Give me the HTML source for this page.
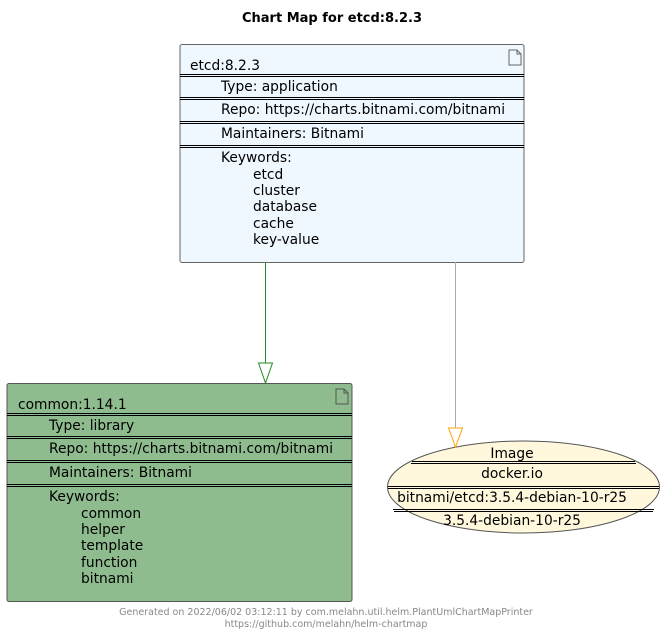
<!DOCTYPE html>
<html><head><meta charset="utf-8"><style>body{margin:0;background:#fff}svg{display:block}text{font-family:"DejaVu Sans","Liberation Sans",sans-serif;font-size:13.8px;fill:#000}</style></head><body>
<svg width="664" height="636" viewBox="0 0 664 636" xmlns="http://www.w3.org/2000/svg">
<text x="332" y="22" text-anchor="middle" style="font-weight:bold;font-size:13px">Chart Map for etcd:8.2.3</text>
<!-- node1 -->
<rect x="180" y="44.5" width="344" height="218" rx="2" fill="#F0F8FF" stroke="#666"/>
<path d="M509 50h8l4 4v11h-12z M517 50v4h4" fill="none" stroke="#666"/>
<g stroke="#000" stroke-width="1">
<line x1="180" y1="74.5" x2="524" y2="74.5"/><line x1="180" y1="76.5" x2="524" y2="76.5"/>
<line x1="180" y1="97.5" x2="524" y2="97.5"/><line x1="180" y1="99.5" x2="524" y2="99.5"/>
<line x1="180" y1="121.5" x2="524" y2="121.5"/><line x1="180" y1="123.5" x2="524" y2="123.5"/>
<line x1="180" y1="145.5" x2="524" y2="145.5"/><line x1="180" y1="147.5" x2="524" y2="147.5"/>
</g>
<text x="190" y="70">etcd:8.2.3</text>
<text x="221" y="91">Type: application</text>
<text x="221" y="114">Repo: https://charts.bitnami.com/bitnami</text>
<text x="221" y="138">Maintainers: Bitnami</text>
<text x="221" y="162">Keywords:</text>
<text x="253" y="179">etcd</text><text x="253" y="195">cluster</text><text x="253" y="211">database</text><text x="253" y="228">cache</text><text x="253" y="244">key-value</text>
<!-- node2 -->
<rect x="7" y="383.5" width="345" height="218" rx="2" fill="#8FBC8F" stroke="#555"/>
<path d="M336 389h8l4 4v11h-12z M344 389v4h4" fill="none" stroke="#555"/>
<g stroke="#000" stroke-width="1">
<line x1="7" y1="413.5" x2="352" y2="413.5"/><line x1="7" y1="415.5" x2="352" y2="415.5"/>
<line x1="7" y1="436.5" x2="352" y2="436.5"/><line x1="7" y1="438.5" x2="352" y2="438.5"/>
<line x1="7" y1="460.5" x2="352" y2="460.5"/><line x1="7" y1="462.5" x2="352" y2="462.5"/>
<line x1="7" y1="484.5" x2="352" y2="484.5"/><line x1="7" y1="486.5" x2="352" y2="486.5"/>
</g>
<text x="18" y="409">common:1.14.1</text>
<text x="49" y="430">Type: library</text>
<text x="49" y="453">Repo: https://charts.bitnami.com/bitnami</text>
<text x="49" y="477">Maintainers: Bitnami</text>
<text x="49" y="501">Keywords:</text>
<text x="81" y="518">common</text><text x="81" y="534">helper</text><text x="81" y="550">template</text><text x="81" y="567">function</text><text x="81" y="583">bitnami</text>
<!-- ellipse -->
<ellipse cx="523.5" cy="487" rx="136" ry="46" fill="#FFF8DC" stroke="#555"/>
<g stroke="#000">
<line x1="412" y1="461.5" x2="635" y2="461.5"/><line x1="411" y1="463.5" x2="636" y2="463.5"/>
<line x1="388" y1="486.5" x2="659" y2="486.5"/><line x1="388" y1="488.5" x2="659" y2="488.5"/>
<line x1="393" y1="509.5" x2="654" y2="509.5"/><line x1="394" y1="511.5" x2="653" y2="511.5"/>
</g>
<text x="512" y="458" text-anchor="middle">Image</text>
<text x="512" y="478" text-anchor="middle">docker.io</text>
<text x="512" y="502" text-anchor="middle">bitnami/etcd:3.5.4-debian-10-r25</text>
<text x="512" y="525" text-anchor="middle">3.5.4-debian-10-r25</text>
<!-- edges -->
<line x1="265.5" y1="262" x2="265.5" y2="363" stroke="#228B22"/>
<polygon points="258.5,363 272.5,363 265.5,383" fill="#fff" stroke="#228B22"/>
<line x1="455.5" y1="262" x2="455.5" y2="428" stroke="#aaa"/>
<polygon points="448.5,428 462.5,428 455.5,447" fill="#fff" stroke="#FFA500"/>
<text x="326" y="615" text-anchor="middle" style="font-size:9.5px;fill:#888">Generated on 2022/06/02 03:12:11 by com.melahn.util.helm.PlantUmlChartMapPrinter</text>
<text x="326" y="627" text-anchor="middle" style="font-size:9.5px;fill:#888">https://github.com/melahn/helm-chartmap</text>
</svg>
</body></html>
